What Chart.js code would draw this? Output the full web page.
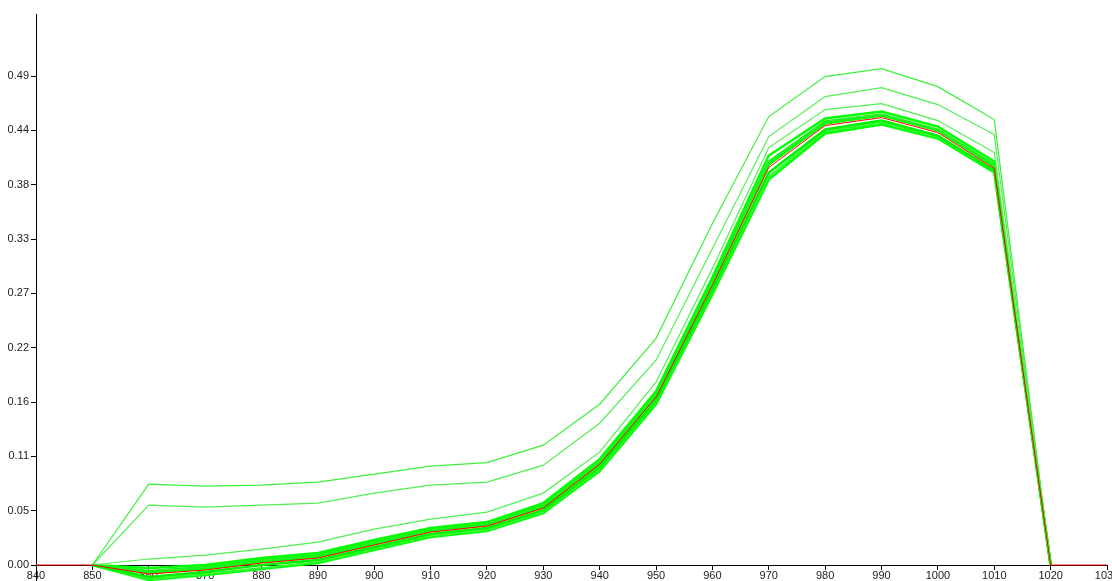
<!DOCTYPE html>
<html>
<head>
<meta charset="utf-8">
<script src="https://cdn.jsdelivr.net/npm/chart.js@4"></script>
<style>
  body { margin: 0; background: #fff; overflow: hidden; }
  #wrap { width: 1112px; height: 581px; }
</style>
</head>
<body>
<div id="wrap"><canvas id="myChart"></canvas></div>
<script>
xValues = [840, 850, 860, 870, 880, 890, 900, 910, 920, 930, 940, 950, 960, 970, 980, 990, 1000, 1010, 1020, 1030]

yTicks = [0, 0.0544, 0.1088, 0.1632, 0.2176, 0.272, 0.3264, 0.3808, 0.4352, 0.4896]

// the red reference curve
mainSeries = [0, 0, -0.009, -0.005, 0.002, 0.007, 0.020, 0.033, 0.039, 0.057, 0.101, 0.168, 0.280, 0.398, 0.440, 0.448, 0.433, 0.397, 0, 0]

// green outliers
outlierTop = [null, 0, 0.081, 0.079, 0.080, 0.083, 0.091, 0.099, 0.1025, 0.120, 0.161, 0.227, 0.342, 0.449, 0.489, 0.497, 0.479, 0.446, 0, null]
outlierMid = [null, 0, 0.060, 0.058, 0.060, 0.062, 0.072, 0.080, 0.083, 0.100, 0.142, 0.205, 0.317, 0.429, 0.469, 0.478, 0.461, 0.431, 0, null]
outlierLow = [null, 0, 0.006, 0.010, 0.016, 0.023, 0.036, 0.046, 0.053, 0.072, 0.113, 0.183, 0.297, 0.418, 0.456, 0.462, 0.445, 0.413, 0, null]

// green bundle around the red curve
bundle1 = [null, 0, -0.003, 0.000, 0.007, 0.012, 0.025, 0.037, 0.043, 0.062, 0.106, 0.174, 0.288, 0.410, 0.447, 0.454, 0.439, 0.404, 0, null]
bundle2 = [null, 0, -0.006, -0.002, 0.005, 0.010, 0.023, 0.035, 0.041, 0.060, 0.103, 0.171, 0.284, 0.404, 0.444, 0.451, 0.436, 0.401, 0, null]
bundle3 = [null, 0, -0.008, -0.004, 0.003, 0.008, 0.021, 0.034, 0.040, 0.058, 0.101, 0.169, 0.282, 0.401, 0.442, 0.450, 0.435, 0.399, 0, null]
bundle4 = [null, 0, -0.012, -0.007, 0.000, 0.005, 0.018, 0.031, 0.037, 0.055, 0.098, 0.165, 0.276, 0.393, 0.436, 0.445, 0.430, 0.395, 0, null]
bundle5 = [null, 0, -0.014, -0.009, -0.003, 0.003, 0.016, 0.029, 0.035, 0.053, 0.096, 0.163, 0.274, 0.389, 0.434, 0.443, 0.429, 0.395, 0, null]
bundle6 = [null, 0, -0.015, -0.010, -0.004, 0.002, 0.015, 0.028, 0.034, 0.052, 0.094, 0.161, 0.271, 0.386, 0.432, 0.441, 0.427, 0.393, 0, null]

function line(data, color, width) {
    return {
        data: data,
        borderColor: color,
        borderWidth: width,
        pointRadius: 0,
        tension: 0,
        spanGaps: false
    }
}

dataSets = [
    line(mainSeries, '#ff0000', 1),
    line(outlierTop, '#3cf03c', 1.2),
    line(outlierMid, '#50f050', 1.2),
    line(outlierLow, '#50f050', 1.2),
    line(bundle1, '#00ff00', 2.5),
    line(bundle2, '#20f020', 2.5),
    line(bundle3, '#00ff00', 2.5),
    line(bundle4, '#00f000', 2.5),
    line(bundle5, '#30ff30', 2),
    line(bundle6, '#00ff00', 2.5)
]

const tickFont = { family: 'Liberation Sans', size: 11 }

new Chart(document.getElementById('myChart'), {
    type: 'line',
    data: {
        labels: xValues,
        datasets: dataSets
    },
    options: {
        responsive: true,
        maintainAspectRatio: false,
        animation: false,
        layout: { padding: { top: 14, right: 5, left: 0, bottom: 0 } },
        plugins: {
            legend: { display: false },
            tooltip: { enabled: false }
        },
        scales: {
            x: {
                type: 'linear',
                min: 840,
                max: 1030,
                position: { y: 0 },
                border: { color: '#000', width: 1 },
                grid: { drawOnChartArea: false, tickLength: 4, color: '#000' },
                ticks: {
                    stepSize: 10,
                    padding: 0,
                    color: '#222',
                    font: tickFont,
                    maxRotation: 0,
                    autoSkip: false,
                    callback: (v) => String(v)
                },
                afterFit: (scale) => {
                    scale.height = 0
                    scale.paddingLeft = 0
                    scale.paddingRight = 0
                }
            },
            y: {
                min: -0.016,
                max: 0.5517,
                border: { color: '#000', width: 1 },
                grid: { drawOnChartArea: false, tickLength: 5, color: '#000' },
                ticks: {
                    padding: 2,
                    color: '#222',
                    font: tickFont,
                    callback: (v) => v.toFixed(2)
                },
                afterBuildTicks: (scale) => {
                    scale.ticks = yTicks.map((v) => ({ value: v }))
                },
                afterFit: (scale) => {
                    scale.width = 36
                    scale.paddingTop = 0
                    scale.paddingBottom = 0
                }
            }
        }
    }
})
</script>
</body>
</html>
